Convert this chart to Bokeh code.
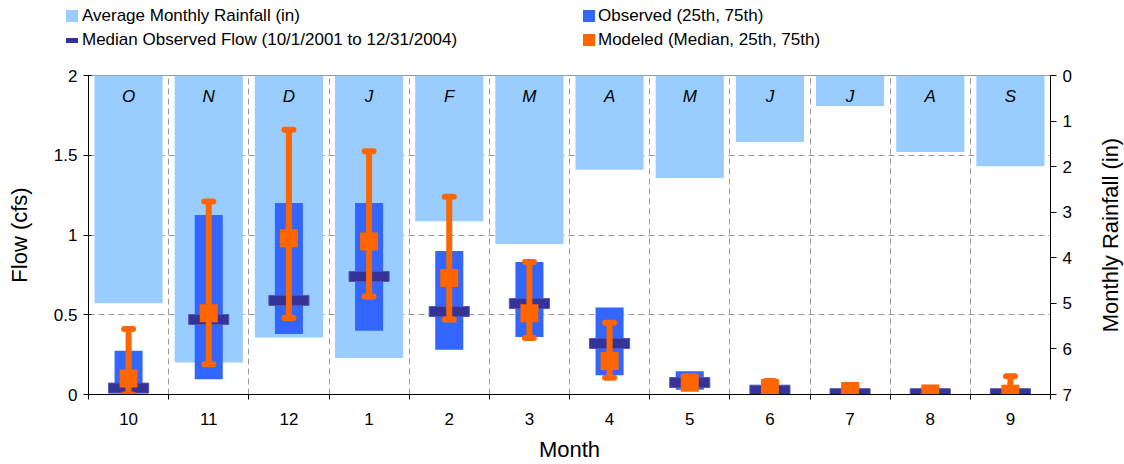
from bokeh.plotting import figure
from bokeh.layouts import column, row
from bokeh.models import Range1d, LinearAxis, FixedTicker, ColumnDataSource, Div
from bokeh.core.properties import value
from bokeh.embed import file_html
from bokeh.resources import INLINE

months = ["10", "11", "12", "1", "2", "3", "4", "5", "6", "7", "8", "9"]
letters = ["O", "N", "D", "J", "F", "M", "A", "M", "J", "J", "A", "S"]
rain = [5.0, 6.3, 5.75, 6.2, 3.2, 3.7, 2.07, 2.25, 1.46, 0.67, 1.68, 1.99]
obs25 = [0.01, 0.095, 0.38, 0.40, 0.28, 0.36, 0.12, 0.03, 0.01, 0.0, 0.0, 0.0]
obs75 = [0.275, 1.125, 1.2, 1.2, 0.9, 0.83, 0.545, 0.145, 0.05, 0.02, 0.01, 0.01]
obs_med = [0.04, 0.47, 0.59, 0.74, 0.52, 0.57, 0.32, 0.075, 0.027, 0.005, 0.005, 0.005]
mod_med = [0.1, 0.51, 0.98, 0.96, 0.73, 0.51, 0.21, 0.073, 0.04, 0.022, 0.006, 0.005]
mod25 = [0.0, 0.19, 0.48, 0.615, 0.47, 0.355, 0.105, 0.04, 0.02, 0.015, 0.0, 0.0]
mod75 = [0.41, 1.21, 1.66, 1.525, 1.24, 0.83, 0.45, 0.115, 0.085, 0.03, 0.01, 0.115]

legend_labels = ["Average Monthly Rainfall (in)",
                 "Median Observed Flow (10/1/2001 to 12/31/2004)",
                 "Observed (25th, 75th)",
                 "Modeled (Median, 25th, 75th)"]
right_label = "Monthly Rainfall (in)"

FONT = "Liberation Sans"
RAIN_C = "#99CCFF"
OBS_C = "#3366FF"
MED_C = "#333399"
MOD_C = "#FF6600"

xs = list(range(len(months)))
bounds = [i - 0.5 for i in range(len(months) + 1)]

src = ColumnDataSource(dict(
    x=xs, month=months, letter=letters, rain=rain, zero=[0] * len(xs),
    obs25=obs25, obs75=obs75, obs_med=obs_med,
    mod_med=mod_med, mod25=mod25, mod75=mod75,
    capl=[v - 0.056 for v in xs], capr=[v + 0.056 for v in xs],
    letter_y=[0.46] * len(xs),
))

# ---------------- legend strip (HTML) ----------------
legend_layout = [
    (66, 10, 12, 12, RAIN_C, 82, 16),
    (66, 38, 12, 5, MED_C, 82, 40),
    (583, 10, 12, 12, OBS_C, 598, 16),
    (583, 34, 12, 12, MOD_C, 598, 40),
]
parts = []
for lab, (sx, sy, sw, sh, col, tx, ty) in zip(legend_labels, legend_layout):
    parts.append(
        f'<div style="position:absolute;left:{sx}px;top:{sy}px;width:{sw}px;'
        f'height:{sh}px;background:{col};"></div>')
    parts.append(
        f'<div style="position:absolute;left:{tx}px;top:{ty - 10}px;height:20px;'
        f'line-height:20px;white-space:nowrap;">{lab}</div>')
legend_html = (
    f'<div style="position:relative;width:1124px;height:60px;margin:0;padding:0;'
    f'font-family:\'{FONT}\';font-size:17px;color:#000;">' + "".join(parts) + '</div>')
top = Div(text=legend_html, width=1124, height=60, margin=0,
          styles={"margin": "0", "padding": "0"})

# ---------------- right axis title (rotated, reads bottom-to-top) ----------------
right_html = (
    f'<div style="position:relative;width:32px;height:404px;margin:0;padding:0;">'
    f'<div style="position:absolute;left:19px;top:175px;'
    f'transform:translate(-50%,-50%) rotate(-90deg);white-space:nowrap;'
    f'font-family:\'{FONT}\';font-size:22px;line-height:26px;color:#000;">{right_label}</div></div>')
rdiv = Div(text=right_html, width=32, height=404, margin=0,
           styles={"margin": "0", "padding": "0"})

# ---------------- main chart ----------------
p = figure(width=1092, height=404, x_range=Range1d(-0.5, 11.5), y_range=Range1d(0, 2),
           output_backend="svg", toolbar_location=None, margin=0,
           min_border_left=88, min_border_right=42, min_border_top=15, min_border_bottom=69)
p.extra_y_ranges = {"rain": Range1d(7, 0)}
p.outline_line_color = "#999999"
p.background_fill_color = "white"
p.border_fill_color = "white"

p.xgrid.ticker = FixedTicker(ticks=bounds[1:-1])
p.xgrid.grid_line_color = "#999999"
p.xgrid.grid_line_dash = "6 4"
p.ygrid.ticker = FixedTicker(ticks=[0.5, 1.0, 1.5])
p.ygrid.grid_line_color = "#999999"
p.ygrid.grid_line_dash = "6 4"

xa = p.xaxis[0]
xa.ticker = FixedTicker(ticks=xs, minor_ticks=bounds)
xa.major_label_overrides = {i: m for i, m in enumerate(months)}
xa.major_tick_line_alpha = 0
xa.minor_tick_in = 0
xa.minor_tick_out = 5
xa.minor_tick_line_color = "black"
xa.axis_line_color = "black"
xa.major_label_text_font = FONT
xa.major_label_text_font_size = "17px"
xa.major_label_text_color = "black"
xa.major_label_standoff = 12
xa.axis_label = "Month"
xa.axis_label_text_font = FONT
xa.axis_label_text_font_size = "22px"
xa.axis_label_text_font_style = "normal"
xa.axis_label_text_color = "black"
xa.axis_label_standoff = 9

ya = p.yaxis[0]
ya.ticker = FixedTicker(ticks=[0, 0.5, 1, 1.5, 2])
ya.major_label_overrides = {0: "0", 0.5: "0.5", 1: "1", 1.5: "1.5", 2: "2"}
ya.minor_tick_line_alpha = 0
ya.major_tick_in = 3
ya.major_tick_out = 5
ya.major_tick_line_color = "black"
ya.axis_line_color = "black"
ya.major_label_text_font = FONT
ya.major_label_text_font_size = "17px"
ya.major_label_text_color = "black"
ya.major_label_standoff = 6
ya.axis_label = "Flow (cfs)"
ya.axis_label_text_font = FONT
ya.axis_label_text_font_size = "22px"
ya.axis_label_text_font_style = "normal"
ya.axis_label_text_color = "black"
ya.axis_label_standoff = 19

ra = LinearAxis(y_range_name="rain", ticker=FixedTicker(ticks=list(range(8))))
ra.minor_tick_line_alpha = 0
ra.major_tick_in = 0
ra.major_tick_out = 6
ra.major_tick_line_color = "black"
ra.axis_line_color = "black"
ra.major_label_text_font = FONT
ra.major_label_text_font_size = "17px"
ra.major_label_text_color = "black"
ra.major_label_standoff = 6
p.add_layout(ra, "right")

p.vbar(x="x", top="zero", bottom="rain", width=0.85, source=src,
       y_range_name="rain", fill_color=RAIN_C, line_color=None)
p.text(x="x", y="letter_y", text="letter", source=src, y_range_name="rain",
       text_align="center", text_baseline="middle", text_font=value(FONT),
       text_font_size="17px", text_font_style="italic", text_color="black")
p.vbar(x="x", top="obs75", bottom="obs25", width=0.35, source=src,
       fill_color=OBS_C, line_color=None)
p.rect(x="x", y="obs_med", width=0.5, height=10, height_units="screen",
       source=src, fill_color=MED_C, line_color="#5555aa", line_width=1)
p.segment(x0="x", y0="mod25", x1="x", y1="mod75", source=src,
          line_color=MOD_C, line_width=6)
p.segment(x0="capl", y0="mod75", x1="capr", y1="mod75", source=src,
          line_color=MOD_C, line_width=6, line_cap="round")
p.segment(x0="capl", y0="mod25", x1="capr", y1="mod25", source=src,
          line_color=MOD_C, line_width=6, line_cap="round")
p.scatter(x="x", y="mod_med", source=src, marker="square", size=18,
          fill_color=MOD_C, line_color=None)

layout = column(top, row(p, rdiv, spacing=0), spacing=0)
open("out.html", "w").write(file_html(layout, INLINE))
